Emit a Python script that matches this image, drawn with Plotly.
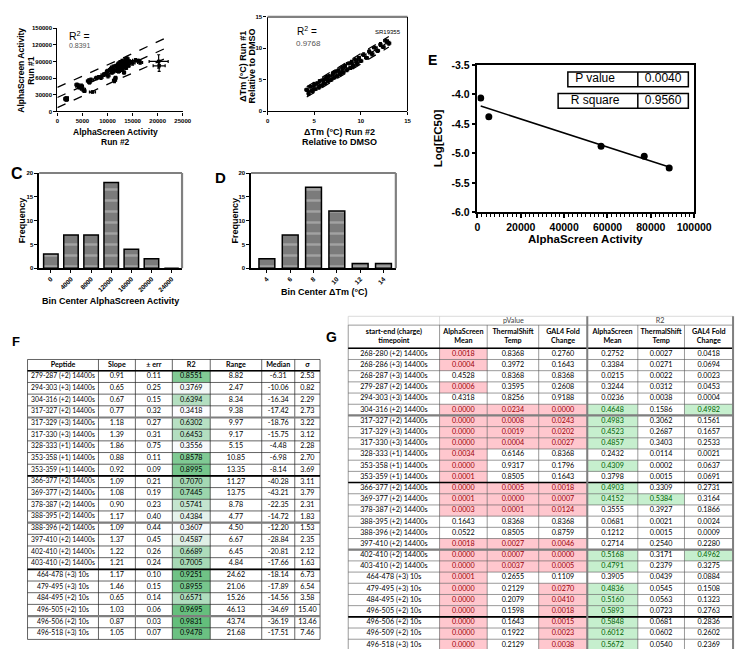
import numpy as np
import plotly.graph_objects as go

W, H = 745, 649
FONT = "Liberation Sans, Arial, sans-serif"
TFONT = "Lato, sans-serif"

# ---------------- Panel A : AlphaScreen run #2 vs run #1 ----------------
a_run2 = [1600, 1800, 1900, 3900, 4200, 4500, 4800, 5100, 5400, 6200, 6400, 6700, 7000,
          7800, 8300, 8700, 9200, 9600, 9900, 10100, 10400, 10700, 10900, 11100, 11300, 11400,
          11600, 11700, 11900, 12100, 12200, 12400, 12500, 12700, 12800, 12900, 13100, 13200,
          13300, 13500, 13600, 13700, 13900, 14000, 14200, 14400, 15000, 15600, 16200, 16500,
          20200, 20300]
a_run1 = [23000, 21000, 24000, 48000, 45000, 43000, 46000, 40000, 37000, 55000, 52000, 57000,
          35000, 60000, 62000, 61000, 66000, 68000, 72000, 64000, 74000, 77000, 70000, 80000,
          73000, 56000, 60000, 82000, 76000, 85000, 72000, 79000, 88000, 83000, 75000, 90000,
          80000, 86000, 70000, 92000, 84000, 78000, 95000, 88000, 82000, 90000, 87000, 92000,
          91000, 88000, 90000, 82000]
a_run2_err = [300, 400, 300, 400, 500, 300, 400, 500, 300, 400, 300, 500, 600, 400, 300, 400,
              500, 400, 300, 400, 500, 300, 400, 500, 300, 400, 300, 400, 500, 300, 400, 500, 400,
              300, 400, 500, 300, 400, 300, 500, 400, 300, 400, 500, 300, 400, 500, 600, 400, 500,
              1900, 1200]
a_run1_err = [3000, 2500, 2000, 3000, 4000, 2500, 3000, 3500, 2500, 3000, 2500, 3000, 1500,
              3000, 2500, 3500, 3000, 2500, 3000, 3500, 3000, 2500, 3000, 3500, 3000, 4000, 3000,
              2500, 3000, 3500, 2500, 3000, 3500, 2500, 3000, 3500, 3000, 2500, 3000, 3500, 3000,
              2500, 3000, 3500, 2500, 3000, 3500, 3000, 2500, 3000, 12000, 10000]
a_r2_text = "0.8391"

# ---------------- Panel B : dTm run #2 vs run #1 ----------------
b_run2 = [4.2, 4.4, 4.6, 4.8, 5.0, 5.1, 5.3, 5.5, 5.6, 5.8, 6.0, 6.1, 6.3, 6.5, 6.6, 6.8, 7.0, 7.1,
          7.3, 7.4, 7.6, 7.8, 8.0, 8.1, 8.3, 8.5, 8.7, 8.9, 9.0, 9.2, 9.4, 9.6, 9.8, 10.0, 10.3,
          10.6, 10.9, 11.2, 11.5, 11.8, 12.1, 12.4, 12.7, 13.0]
b_run1 = [3.4, 2.8, 3.9, 3.2, 4.2, 3.5, 4.4, 3.8, 4.8, 4.1, 5.0, 4.4, 5.4, 4.8, 5.6, 5.0, 6.0, 5.3,
          6.3, 5.6, 6.5, 5.9, 6.9, 6.2, 7.2, 6.6, 7.6, 6.9, 7.8, 7.2, 8.2, 7.6, 8.5, 8.0, 9.0,
          8.5, 9.5, 9.1, 10.1, 9.6, 10.6, 10.2, 11.2, 10.8]
b_run2_err = [0.2, 0.15, 0.25, 0.2, 0.15, 0.2, 0.25, 0.2, 0.15, 0.2, 0.25, 0.2, 0.15, 0.2, 0.25,
              0.2, 0.15, 0.2, 0.25, 0.2, 0.15, 0.2, 0.25, 0.2, 0.15, 0.2, 0.25, 0.2, 0.15, 0.2,
              0.25, 0.2, 0.15, 0.2, 0.25, 0.2, 0.15, 0.2, 0.25, 0.2, 0.15, 0.2, 0.25, 0.2]
b_run1_err = [0.25, 0.3, 0.2, 0.25, 0.3, 0.2, 0.25, 0.3, 0.2, 0.25, 0.3, 0.2, 0.25, 0.3, 0.2,
              0.25, 0.3, 0.2, 0.25, 0.3, 0.2, 0.25, 0.3, 0.2, 0.25, 0.3, 0.2, 0.25, 0.3, 0.2,
              0.25, 0.3, 0.2, 0.25, 0.3, 0.2, 0.25, 0.3, 0.2, 0.25, 0.3, 0.2, 0.25, 0.3]
b_r2_text = "0.9768"
b_compound = "SR19355"

# ---------------- Panels C, D : histograms ----------------
c_bins = ["0", "4000", "8000", "12000", "16000", "20000", "24000"]
c_freq = [3, 7, 7, 18, 4, 2, 0]
d_bins = ["4", "6", "8", "10", "12", "14"]
d_freq = [2, 7, 17, 12, 1, 1]

# ---------------- Panel E ----------------
e_activity = [1500, 5240, 57040, 76950, 88470]
e_log_ec50 = [-4.06, -4.38, -4.88, -5.05, -5.25]
e_stat_names = ["P value", "R square"]
e_stat_values = ["0.0040", "0.9560"]
e_yticks = [-6.0, -5.5, -5.0, -4.5, -4.0, -3.5]

# ---------------- Table F ----------------
f_header = ["Peptide", "Slope", "± err", "R2", "Range", "Median", "σ"]
f_peptide = ["279-287 (+2) 14400s", "294-303 (+3) 14400s", "304-316 (+2) 14400s",
             "317-327 (+2) 14400s", "317-329 (+3) 14400s", "317-330 (+3) 14400s",
             "328-333 (+1) 14400s", "353-358 (+1) 14400s", "353-359 (+1) 14400s",
             "366-377 (+2) 14400s", "369-377 (+2) 14400s", "378-387 (+2) 14400s",
             "388-395 (+2) 14400s", "388-396 (+2) 14400s", "397-410 (+2) 14400s",
             "402-410 (+2) 14400s", "403-410 (+2) 14400s", "464-478 (+3) 10s",
             "479-495 (+3) 10s", "484-495 (+2) 10s", "496-505 (+2) 10s", "496-506 (+2) 10s",
             "496-518 (+3) 10s"]
f_slope = [0.91, 0.65, 0.67, 0.77, 1.18, 1.39, 1.86, 0.88, 0.92, 1.09, 1.08, 0.90, 1.17, 1.09,
           1.37, 1.22, 1.21, 1.17, 1.46, 0.65, 1.03, 0.87, 1.05]
f_err = [0.11, 0.25, 0.15, 0.32, 0.27, 0.31, 0.75, 0.11, 0.09, 0.21, 0.19, 0.23, 0.40, 0.44,
         0.45, 0.26, 0.24, 0.10, 0.15, 0.14, 0.06, 0.03, 0.07]
f_r2 = [0.8551, 0.3769, 0.6394, 0.3418, 0.6302, 0.6453, 0.3556, 0.8578, 0.8995, 0.7070, 0.7445,
        0.5741, 0.4384, 0.3607, 0.4587, 0.6689, 0.7005, 0.9251, 0.8955, 0.6571, 0.9695, 0.9831,
        0.9478]
f_range = [8.82, 2.47, 8.34, 9.38, 9.97, 9.17, 5.15, 10.85, 13.35, 11.27, 13.75, 8.78, 4.77, 4.50,
           6.67, 6.45, 4.84, 24.62, 21.06, 15.26, 46.13, 43.74, 21.68]
f_median = [-6.31, -10.06, -16.34, -17.42, -18.76, -15.75, -4.48, -6.98, -8.14, -40.28, -43.21,
            -22.35, -14.72, -12.20, -28.84, -20.81, -17.66, -18.14, -17.89, -14.56, -34.69,
            -36.19, -17.51]
f_sigma = [2.53, 0.82, 2.29, 2.73, 3.22, 3.12, 2.28, 2.70, 3.69, 3.11, 3.79, 2.31, 1.83, 1.53,
           2.35, 2.12, 1.63, 6.73, 6.54, 3.58, 15.40, 13.46, 7.46]

# ---------------- Table G ----------------
g_groups = ["pValue", "R2"]
g_header = ["start-end (charge)<br>timepoint", "AlphaScreen<br>Mean", "ThermalShift<br>Temp",
            "GAL4 Fold<br>Change", "AlphaScreen<br>Mean", "ThermalShift<br>Temp",
            "GAL4 Fold<br>Change"]
g_peptide = ["268-280 (+2) 14400s", "268-286 (+3) 14400s", "268-287 (+3) 14400s",
             "279-287 (+2) 14400s", "294-303 (+3) 14400s", "304-316 (+2) 14400s",
             "317-327 (+2) 14400s", "317-329 (+3) 14400s", "317-330 (+3) 14400s",
             "328-333 (+1) 14400s", "353-358 (+1) 14400s", "353-359 (+1) 14400s",
             "366-377 (+2) 14400s", "369-377 (+2) 14400s", "378-387 (+2) 14400s",
             "388-395 (+2) 14400s", "388-396 (+2) 14400s", "397-410 (+2) 14400s",
             "402-410 (+2) 14400s", "403-410 (+2) 14400s", "464-478 (+3) 10s",
             "479-495 (+3) 10s", "484-495 (+2) 10s", "496-505 (+2) 10s", "496-506 (+2) 10s",
             "496-509 (+2) 10s", "496-518 (+3) 10s"]
g_p_alpha = [0.0018, 0.0004, 0.4528, 0.0006, 0.4318, 0.0000, 0.0000, 0.0000, 0.0000, 0.0034,
             0.0000, 0.0001, 0.0000, 0.0001, 0.0003, 0.1643, 0.0522, 0.0018, 0.0000, 0.0000,
             0.0001, 0.0000, 0.0000, 0.0000, 0.0000, 0.0000, 0.0000]
g_p_thermal = [0.8368, 0.3972, 0.8368, 0.3595, 0.8256, 0.0234, 0.0008, 0.0019, 0.0004, 0.6146,
               0.9317, 0.8505, 0.0005, 0.0000, 0.0001, 0.8368, 0.8505, 0.0027, 0.0007, 0.0037,
               0.2655, 0.2129, 0.2079, 0.1598, 0.1643, 0.1922, 0.2129]
g_p_gal4 = [0.2760, 0.1643, 0.8368, 0.2608, 0.9188, 0.0000, 0.0243, 0.0202, 0.0027, 0.8368,
            0.1796, 0.1643, 0.0018, 0.0007, 0.0124, 0.8368, 0.8759, 0.0046, 0.0000, 0.0005,
            0.1109, 0.0270, 0.0410, 0.0018, 0.0015, 0.0023, 0.0038]
g_r2_alpha = [0.2752, 0.3384, 0.0215, 0.3244, 0.0236, 0.4648, 0.4983, 0.4523, 0.4857, 0.2432,
              0.4309, 0.3798, 0.4903, 0.4152, 0.3555, 0.0681, 0.1212, 0.2714, 0.5168, 0.4791,
              0.3905, 0.4836, 0.5160, 0.5893, 0.5848, 0.6012, 0.5672]
g_r2_thermal = [0.0027, 0.0271, 0.0022, 0.0312, 0.0038, 0.1586, 0.3062, 0.2687, 0.3403, 0.0114,
                0.0002, 0.0015, 0.3309, 0.5384, 0.3927, 0.0021, 0.0015, 0.2540, 0.3171, 0.2379,
                0.0439, 0.0545, 0.0563, 0.0723, 0.0681, 0.0602, 0.0540]
g_r2_gal4 = [0.0418, 0.0694, 0.0023, 0.0453, 0.0004, 0.4982, 0.1561, 0.1657, 0.2533, 0.0021,
             0.0637, 0.0691, 0.2731, 0.3164, 0.1866, 0.0024, 0.0009, 0.2280, 0.4962, 0.3275,
             0.0884, 0.1508, 0.1323, 0.2763, 0.2836, 0.2602, 0.2369]
g_p_cut = 0.05
g_r2_cut = 0.4


# =====================================================================
def xd(a, b):
    return [a / W, b / W]


def yd(top, bottom):
    return [1 - bottom / H, 1 - top / H]


def px(x):
    return x / W


def py(y):
    return 1 - y / H


def fit_band(x, y, xs, t=2.0):
    x = np.asarray(x, float)
    y = np.asarray(y, float)
    m, b = np.polyfit(x, y, 1)
    n = len(x)
    s = np.sqrt(((y - (m * x + b)) ** 2).sum() / (n - 2))
    xb = x.mean()
    sxx = ((x - xb) ** 2).sum()
    yh = m * xs + b
    d = t * s * np.sqrt(1 + 1 / n + (xs - xb) ** 2 / sxx)
    return yh, yh - d, yh + d


fig = go.Figure()

# ---- A
fig.add_trace(go.Scatter(
    x=a_run2, y=a_run1, mode="markers", xaxis="x", yaxis="y",
    marker=dict(symbol="square", size=3.5, color="black"),
    error_x=dict(type="data", array=a_run2_err, color="black", thickness=1.2, width=1.5),
    error_y=dict(type="data", array=a_run1_err, color="black", thickness=1.2, width=1.5),
    showlegend=False, hoverinfo="skip"))
xa = np.asarray(a_run2, float)
xs_a = np.linspace(0, (xa + np.asarray(a_run2_err)).max(), 60)
for line in fit_band(a_run2, a_run1, xs_a):
    fig.add_trace(go.Scatter(x=xs_a, y=line, mode="lines", xaxis="x", yaxis="y",
                             line=dict(color="black", width=1.3, dash="dash"),
                             showlegend=False, hoverinfo="skip"))

# ---- B
fig.add_trace(go.Scatter(
    x=b_run2, y=b_run1, mode="markers", xaxis="x2", yaxis="y2",
    marker=dict(symbol="circle", size=4, color="black"),
    error_x=dict(type="data", array=b_run2_err, color="black", thickness=1.2, width=1.5),
    error_y=dict(type="data", array=b_run1_err, color="black", thickness=1.2, width=1.5),
    showlegend=False, hoverinfo="skip"))
xs_b = np.linspace(min(b_run2), max(b_run2), 60)
for line in fit_band(b_run2, b_run1, xs_b):
    fig.add_trace(go.Scatter(x=xs_b, y=line, mode="lines", xaxis="x2", yaxis="y2",
                             line=dict(color="black", width=1.2, dash="dash"),
                             showlegend=False, hoverinfo="skip"))

# ---- C, D
bar_marker = dict(color="#7b7b7b", line=dict(color="black", width=1.5),
                  pattern=dict(shape="-", fgcolor="#c9c9c9", size=11, solidity=0.22))
fig.add_trace(go.Bar(x=c_bins, y=c_freq, xaxis="x3", yaxis="y3", width=0.72,
                     marker=bar_marker, showlegend=False, hoverinfo="skip"))
fig.add_trace(go.Bar(x=d_bins, y=d_freq, xaxis="x4", yaxis="y4", width=0.68,
                     marker=bar_marker, showlegend=False, hoverinfo="skip"))

# ---- E
fig.add_trace(go.Scatter(x=e_activity, y=e_log_ec50, mode="markers", xaxis="x5", yaxis="y5",
                         marker=dict(size=7, color="black"), showlegend=False, hoverinfo="skip"))
xs_e = np.linspace(min(e_activity), max(e_activity), 20)
me, be = np.polyfit(e_activity, e_log_ec50, 1)
fig.add_trace(go.Scatter(x=xs_e, y=me * xs_e + be, mode="lines", xaxis="x5", yaxis="y5",
                         line=dict(color="black", width=1.5), showlegend=False, hoverinfo="skip"))

# ---------------- axes ----------------
small_tick = dict(family=FONT, size=6, color="black", weight="bold")
base = dict(showgrid=False, zeroline=False, showline=True, linecolor="black", ticks="outside",
            tickcolor="black")
layout_axes = dict(
    xaxis=dict(domain=xd(47.7, 176.7), range=[0, 25000], dtick=5000, tickformat="d", anchor="y",
               linewidth=1.3, ticklen=3, tickwidth=1.2, tickfont=small_tick, **base),
    yaxis=dict(domain=yd(14.3, 99.3), range=[0, 150000], dtick=30000, tickformat="d",
               anchor="x", linewidth=1.3, ticklen=3, tickwidth=1.2, tickfont=small_tick, **base),
    xaxis2=dict(domain=xd(264, 408), range=[0, 15], dtick=5, anchor="y2", linewidth=1.3,
                ticklen=3, tickwidth=1.2, tickfont=small_tick, **base),
    yaxis2=dict(domain=yd(3, 99), range=[0, 15], dtick=5, anchor="x2", linewidth=1.3,
                ticklen=3, tickwidth=1.2, tickfont=small_tick, **base),
    xaxis3=dict(domain=xd(29, 176), range=[-0.58, 6.52], type="category", anchor="y3",
                tickangle=-45, linewidth=1.5, ticklen=3, tickwidth=1.2,
                tickfont=dict(family=FONT, size=6.5, color="black", weight="bold"), **base),
    yaxis3=dict(domain=yd(162, 259), range=[0, 20], dtick=5, anchor="x3", linewidth=1.5,
                ticklen=3, tickwidth=1.2, tickfont=small_tick, **base),
    xaxis4=dict(domain=xd(247, 396), range=[-0.68, 5.53], type="category", anchor="y4",
                tickangle=-45, linewidth=1.5, ticklen=3, tickwidth=1.2,
                tickfont=dict(family=FONT, size=6.5, color="black", weight="bold"), **base),
    yaxis4=dict(domain=yd(162, 259), range=[0, 20], dtick=5, anchor="x4", linewidth=1.5,
                ticklen=3, tickwidth=1.2, tickfont=small_tick, **base),
    xaxis5=dict(domain=xd(480, 703), range=[0, 100000], dtick=20000, tickformat="d",
                anchor="y5", mirror=True, linewidth=1.6, ticklen=4, tickwidth=1.5,
                minor=dict(dtick=2000, ticklen=2.5, tickwidth=1, ticks="outside",
                           tickcolor="black"),
                tickfont=dict(family=FONT, size=10.5, color="black", weight="bold"), **base),
    yaxis5=dict(domain=yd(52, 202), range=[-6, -3.5], tickvals=e_yticks,
                ticktext=[f"{v:.1f}" for v in e_yticks], anchor="x5", mirror=True,
                linewidth=1.6, ticklen=4, tickwidth=1.5,
                tickfont=dict(family=FONT, size=10.5, color="black", weight="bold"), **base),
    xaxis6=dict(domain=[0, 1], range=[0, W], visible=False, fixedrange=True, anchor="y6"),
    yaxis6=dict(domain=[0, 1], range=[H, 0], visible=False, fixedrange=True, anchor="x6"),
)

shapes = []
# frames (gray top/right for B, C, D)
for ax in ["x2", "x3", "x4"]:
    yax = "y" + ax[1:]
    shapes.append(dict(type="line", xref=f"{ax} domain", yref=f"{yax} domain", x0=0, x1=1,
                       y0=1, y1=1, line=dict(color="#808080", width=2.2)))
shapes.append(dict(type="line", xref="x2 domain", yref="y2 domain", x0=1, x1=1, y0=0, y1=1,
                   line=dict(color="black", width=1)))
for ax in ["x3", "x4"]:
    yax = "y" + ax[1:]
    shapes.append(dict(type="line", xref=f"{ax} domain", yref=f"{yax} domain", x0=1, x1=1,
                       y0=0, y1=1, line=dict(color="#808080", width=2.2)))


def sh_rect(x0, y0, x1, y1, fill, lw=0, lc="black", layer="below"):
    shapes.append(dict(type="rect", xref="x6", yref="y6", x0=x0, x1=x1, y0=y0, y1=y1,
                       fillcolor=fill, line=dict(width=lw, color=lc), layer=layer))


def sh_line(x0, y0, x1, y1, color, width):
    shapes.append(dict(type="line", xref="x6", yref="y6", x0=x0, x1=x1, y0=y0, y1=y1,
                       line=dict(color=color, width=width), layer="above"))


def add_text(xs, ys, texts, size, colors="black", bold=False, family=TFONT):
    fig.add_trace(go.Scatter(x=xs, y=ys, text=texts, mode="text", textposition="middle center",
                             textfont=dict(family=family, size=size, color=colors,
                                           weight="bold" if bold else "normal"),
                             xaxis="x6", yaxis="y6", showlegend=False, hoverinfo="skip",
                             cliponaxis=False))


# ---- E inset statistics boxes
e_boxes = [(573, 59, 74), (563, 81, 96)]
for (x0, y0, y1), name, val in zip(e_boxes, e_stat_names, e_stat_values):
    sh_rect(x0, y0, 697, y1, "rgba(0,0,0,0)", lw=1.5, lc="black", layer="above")
    sh_line(645, y0, 645, y1, "black", 1.5)
add_text([601, 601], [(b[1] + b[2]) / 2 for b in e_boxes], e_stat_names, 12, family=FONT)
add_text([671, 671], [(b[1] + b[2]) / 2 for b in e_boxes], e_stat_values, 12, family=FONT)

# ---- Table F
fx = [17, 90, 128, 166, 205, 258, 292, 318]
nf = len(f_peptide)
f_top, f_hb, f_pitch = 352, 363.5, 11.9
f_edges = [f_top, f_hb] + [f_hb + f_pitch * (i + 1) for i in range(nf)]
f_cx = [(fx[i] + fx[i + 1]) / 2 for i in range(7)]
f_cy = [(f_edges[i + 1] + f_edges[i + 2]) / 2 for i in range(nf)]
rmin, rmax = min(f_r2), max(f_r2)
for i, v in enumerate(f_r2):
    t = (v - rmin) / (rmax - rmin)
    col = "rgb(%d,%d,%d)" % (252 + (99 - 252) * t, 252 + (190 - 252) * t, 255 + (123 - 255) * t)
    sh_rect(fx[3], f_edges[i + 1], fx[4], f_edges[i + 2], col)
for e in f_edges:
    sh_line(fx[0], e, fx[-1], e, "#222222", 0.7)
for x in fx:
    sh_line(x, f_top, x, f_edges[-1], "#222222", 0.7)
sh_line(fx[0], f_hb, fx[-1], f_hb, "black", 1.6)
for k in [3, 12, 20]:
    sh_line(fx[0], f_edges[k + 2], fx[-1], f_edges[k + 2], "#7f7f7f", 2.2)
for k in [8, 16]:
    sh_line(fx[0], f_edges[k + 2], fx[-1], f_edges[k + 2], "black", 1.6)
add_text(f_cx, [(f_top + f_hb) / 2] * 7, f_header, 7.2, bold=True)
f_cols = [f_peptide, [f"{v:.2f}" for v in f_slope], [f"{v:.2f}" for v in f_err],
          [f"{v:.4f}" for v in f_r2], [f"{v:.2f}" for v in f_range],
          [f"{v:.2f}" for v in f_median], [f"{v:.2f}" for v in f_sigma]]
for c, vals in enumerate(f_cols):
    add_text([f_cx[c]] * nf, f_cy, vals, 6.8 if c == 0 else 7.2)

# ---- Table G
gx = [347, 441, 490, 543, 593, 645, 693, 743]
ng = len(g_peptide)
g_gt, g_ht, g_hb, g_pitch = 308, 317, 340.6, 11.4
g_edges = [g_hb + g_pitch * i for i in range(ng + 1)]
g_cx = [(gx[i] + gx[i + 1]) / 2 for i in range(7)]
g_cy = [(g_edges[i] + g_edges[i + 1]) / 2 for i in range(ng)]
g_cols = [g_p_alpha, g_p_thermal, g_p_gal4, g_r2_alpha, g_r2_thermal, g_r2_gal4]
g_colors = []
for c, vals in enumerate(g_cols):
    cc = []
    for i, v in enumerate(vals):
        if c < 3 and v < g_p_cut:
            sh_rect(gx[c + 1], g_edges[i], gx[c + 2], g_edges[i + 1], "#FFC7CE")
            cc.append("#9C0006")
        elif c >= 3 and v >= g_r2_cut:
            sh_rect(gx[c + 1], g_edges[i], gx[c + 2], g_edges[i + 1], "#C6EFCE")
            cc.append("#006100")
        else:
            cc.append("black")
    g_colors.append(cc)
# group row (light borders)
sh_line(gx[0], g_gt, gx[-1], g_gt, "#cccccc", 0.7)
for x in [gx[0], gx[1], gx[4], gx[7]]:
    sh_line(x, g_gt, x, g_ht, "#cccccc", 0.7)
for e in [g_ht] + g_edges:
    sh_line(gx[0], e, gx[-1], e, "#555555", 0.6)
for x in gx:
    sh_line(x, g_ht, x, g_edges[-1], "#555555", 0.6)
sh_line(gx[0], g_hb, gx[-1], g_hb, "black", 1.6)
for k in [5, 17]:
    sh_line(gx[0], g_edges[k + 1], gx[-1], g_edges[k + 1], "#7f7f7f", 2.2)
for k in [11, 23]:
    sh_line(gx[0], g_edges[k + 1], gx[-1], g_edges[k + 1], "black", 1.6)
sh_line(gx[4], g_gt, gx[4], g_edges[-1], "#7f7f7f", 2)
sh_line(gx[7], g_gt, gx[7], g_edges[-1], "#7f7f7f", 2)
add_text([(gx[1] + gx[4]) / 2, (gx[4] + gx[7]) / 2], [(g_gt + g_ht) / 2] * 2, g_groups, 7.2,
         colors="#444444")
add_text(g_cx, [(g_ht + g_hb) / 2] * 7, g_header, 7.2, bold=True)
add_text([g_cx[0]] * ng, g_cy, g_peptide, 7.2)
for c, vals in enumerate(g_cols):
    add_text([g_cx[c + 1]] * ng, g_cy, [f"{v:.4f}" for v in vals], 7.2, colors=g_colors[c])

# ---------------- annotations ----------------
ann = []


def label(x, y, text, size, bold=True, angle=0, color="black", family=FONT, xanchor="center"):
    t = f"<b>{text}</b>" if bold else text
    ann.append(dict(x=px(x), y=py(y), xref="paper", yref="paper", text=t, showarrow=False,
                    textangle=angle, xanchor=xanchor, yanchor="middle",
                    font=dict(family=family, size=size, color=color)))


# A
label(10, 57, "AlphaScreen Activity", 8.5, angle=-90)
label(20.5, 57, "Run #1", 8.5, angle=-90)
label(108, 120, "AlphaScreen Activity", 8.5)
label(108, 130, "Run #2", 8.5)
label(58, 22, "R<sup>2</sup> =", 10.5, bold=False, xanchor="left")
label(58, 32, a_r2_text, 7, bold=False, color="#555555", xanchor="left")
# B
label(238.5, 53, "ΔTm (°C) Run #1", 9, angle=-90)
label(247.5, 53, "Relative to DMSO", 9, angle=-90)
label(338, 120, "ΔTm (°C) Run #2", 9)
label(338, 130, "Relative to DMSO", 9)
label(292, 17, "R<sup>2</sup> =", 10, bold=False, xanchor="left")
label(291, 30, b_r2_text, 8, bold=False, color="#555555", xanchor="left")
label(372, 18, b_compound, 6, bold=False, xanchor="left")
# C, D
label(11.5, 210, "Frequency", 9, angle=-90)
label(102, 292, "Bin Center AlphaScreen Activity", 9)
label(231, 210, "Frequency", 9, angle=-90)
label(323, 283, "Bin Center ΔTm (°C)", 9)
# E
label(439, 127, "Log[EC50]", 11.5, angle=-90)
label(591, 229, "AlphaScreen Activity", 11.5)
# panel letters
label(6, 163, "C", 16)
label(216, 167, "D", 15)
label(434, 47, "E", 14)
label(5, 334, "F", 13)
label(330, 329, "G", 14)

fig.update_layout(
    width=W, height=H, autosize=False, margin=dict(l=0, r=0, t=0, b=0),
    paper_bgcolor="white", plot_bgcolor="rgba(0,0,0,0)",
    showlegend=False, hovermode=False, bargap=0.3,
    shapes=shapes, annotations=ann, **layout_axes)

fig.write_html("out.html")
